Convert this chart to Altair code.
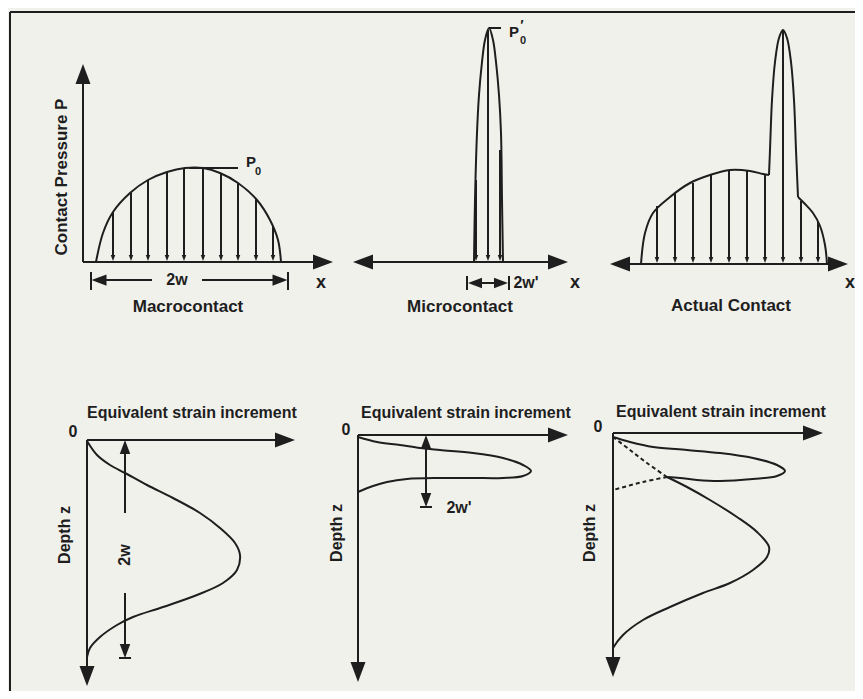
import altair as alt
import pandas as pd

INK = "#1e1e1e"
PAPER = "#f1f1ec"
FONT = "Liberation Sans, Arial"

# ---- curves (x to the right, y downwards) ----
MACRO_P = [(96, 262), (103, 233), (113, 212), (130, 193), (148, 180), (167, 172), (185, 168),
           (203, 168), (220, 173), (238, 183), (257, 200), (270, 220), (278, 240), (281, 262)]
MICRO_P = [(474, 262), (475, 200), (477, 133), (479, 95), (482, 62), (485, 40), (489, 28),
           (493, 40), (496, 62), (499, 95), (501, 133), (502, 200), (503, 262)]
ACTUAL_LEFT = [(641, 264), (645, 233), (653, 213), (670, 197), (690, 183), (710, 175),
               (730, 170), (750, 171), (763, 174), (769, 175)]
ACTUAL_SPIKE = [(769, 175), (770, 150), (772, 100), (775, 62), (779, 38), (783, 30),
                (787, 38), (791, 62), (794, 100), (796, 150), (798, 197)]
ACTUAL_RIGHT = [(798, 197), (805, 204), (813, 213), (820, 226), (825, 245), (827, 264)]
MACRO_STRAIN = [(87, 441), (97, 455), (110, 465), (125, 473), (147, 485), (173, 498), (200, 513),
                (220, 528), (235, 543), (240, 555), (237, 570), (223, 583), (197, 595),
                (163, 607), (133, 617), (117, 625), (100, 637), (90, 648), (87, 657)]
MICRO_STRAIN = [(358, 437), (377, 442), (400, 445), (420, 448), (440, 450), (473, 453), (503, 458),
                (523, 465), (531, 471), (523, 476), (503, 478), (473, 478), (440, 478),
                (407, 479), (387, 482), (373, 486), (358, 492)]
ACTUAL_STRAIN_SHALLOW = [(613, 437), (630, 442), (653, 447), (687, 450), (720, 453), (753, 458),
                         (777, 465), (785, 471), (777, 476), (753, 479), (720, 481), (697, 480),
                         (680, 478), (667, 477)]
ACTUAL_STRAIN_DEEP = [(667, 477), (687, 487), (710, 500), (737, 517), (757, 532), (769, 547),
                      (767, 557), (753, 570), (730, 583), (703, 593), (670, 607), (643, 620),
                      (623, 635), (613, 648)]
DASHED_A = [(613, 437), (630, 450), (647, 463), (667, 477)]
DASHED_B = [(667, 477), (643, 482), (613, 490)]

# ---- pressure arrows (x position, top of the arrow) ----
MACRO_ARROW_X = [113, 131, 148, 167, 184, 203, 221, 238, 256, 273]
MACRO_ARROW_TOP = [212, 193, 180, 172, 168, 168, 173, 183, 199, 226]
MICRO_ARROW_X = [476, 488, 500]
MICRO_ARROW_TOP = [180, 30, 150]
ACTUAL_ARROW_X = [657, 675, 693, 711, 729, 747, 765, 783, 801, 818]
ACTUAL_ARROW_TOP = [206, 194, 183, 175, 170, 171, 174, 31, 201, 222]

# ---- straight strokes (x, y, x2, y2) ----
SEGMENTS = [
    (10, 12, 870, 12), (10, 12, 10, 710),                       # frame
    (83, 82, 83, 262), (83, 262, 316, 262),                     # macro axes
    (370, 262, 552, 262),                                       # micro axis
    (625, 264, 832, 264),                                       # actual axis
    (189, 168, 238, 168), (489, 28, 501, 28),                   # P0 leaders
    (91, 272, 91, 290), (288, 272, 288, 290),                   # 2w bars
    (100, 280, 152, 280), (202, 280, 280, 280),                 # 2w line
    (467, 276, 467, 290), (509, 276, 509, 290), (475, 283, 501, 283),  # 2w'
    (87, 440, 87, 668), (87, 440, 280, 440),                    # strain axes 1
    (125, 450, 125, 513), (125, 593, 125, 650), (119, 658, 131, 658),
    (358, 435, 358, 664), (358, 435, 552, 435),                 # strain axes 2
    (426, 444, 426, 500), (420, 507, 432, 507),
    (613, 433, 613, 659), (613, 433, 808, 433),                 # strain axes 3
]

# ---- arrow heads (centre x, centre y, direction angle, size) ----
HEADS = [
    (83, 74, 0, 400), (323, 262, 90, 400),
    (363, 262, 270, 400), (558, 262, 90, 400),
    (620, 264, 270, 400), (838, 264, 90, 400),
    (99, 280, 270, 225), (280, 280, 90, 225),
    (475, 283, 270, 196), (501, 283, 90, 196),
    (87, 676, 180, 400), (285, 440, 90, 400),
    (125, 447, 0, 196), (125, 651, 180, 196),
    (358, 672, 180, 400), (558, 435, 90, 400),
    (426, 442, 0, 196), (426, 500, 180, 196),
    (613, 667, 180, 400), (813, 433, 90, 400),
]

# ---- labels ----
LABELS = [
    ("Contact Pressure P", 62, 177, 17, 270),
    ("P", 251, 162, 15, 0), ("0", 258, 172, 11, 0),
    ("P", 514, 32, 15, 0), ("′", 522, 26, 14, 0), ("0", 523, 41, 11, 0),
    ("x", 321, 283, 18, 0), ("x", 575, 283, 18, 0), ("x", 850, 283, 18, 0),
    ("2w", 177, 280, 16, 0), ("2w'", 526, 283, 16, 0),
    ("Macrocontact", 188, 307, 17, 0), ("Microcontact", 460, 307, 17, 0),
    ("Actual Contact", 731, 306, 17, 0),
    ("0", 73, 432, 16, 0), ("0", 346, 430, 16, 0), ("0", 598, 427, 16, 0),
    ("Depth z", 65, 535, 16, 270), ("Depth z", 337, 533, 16, 270), ("Depth z", 590, 533, 16, 270),
    ("2w", 125, 555, 16, 270), ("2w'", 459, 508, 16, 0),
]
TITLES = [("Equivalent strain increment", 87, 413), ("Equivalent strain increment", 361, 413),
          ("Equivalent strain increment", 616, 412)]

# ---- build tables ----
solid = {"macro": MACRO_P, "micro": MICRO_P, "aL": ACTUAL_LEFT, "aS": ACTUAL_SPIKE,
         "aR": ACTUAL_RIGHT, "s1": MACRO_STRAIN, "s2": MICRO_STRAIN,
         "s3a": ACTUAL_STRAIN_SHALLOW, "s3b": ACTUAL_STRAIN_DEEP}
dashed = {"dA": DASHED_A, "dB": DASHED_B}


def curve_table(d):
    return pd.DataFrame([{"id": k, "i": i, "x": p[0], "y": p[1]}
                         for k, pts in d.items() for i, p in enumerate(pts)])


solid_df = curve_table(solid)
dashed_df = curve_table(dashed)

segs = list(SEGMENTS)
heads = list(HEADS)
for xs, tops, base in [(MACRO_ARROW_X, MACRO_ARROW_TOP, 262),
                       (MICRO_ARROW_X, MICRO_ARROW_TOP, 262),
                       (ACTUAL_ARROW_X, ACTUAL_ARROW_TOP, 264)]:
    for x, t in zip(xs, tops):
        segs.append((x, t, x, base - 4))
        heads.append((x, base - 4, 180, 36))
seg_df = pd.DataFrame(segs, columns=["x", "y", "x2", "y2"])
head_df = pd.DataFrame(heads, columns=["x", "y", "angle", "size"])
lab_df = pd.DataFrame(LABELS, columns=["text", "x", "y", "size", "angle"])
title_df = pd.DataFrame(TITLES, columns=["text", "x", "y"])

XS = alt.Scale(domain=[8, 855], nice=False, zero=False)
YS = alt.Scale(domain=[8, 691], nice=False, zero=False, reverse=True)


def X(f="x"):
    return alt.X(f"{f}:Q", scale=XS, axis=None)


def Y(f="y"):
    return alt.Y(f"{f}:Q", scale=YS, axis=None)


lines = alt.Chart(solid_df).mark_line(interpolate="catmull-rom", strokeWidth=2, color=INK).encode(
    x=X(), y=Y(), detail="id:N", order="i:Q")
dlines = alt.Chart(dashed_df).mark_line(interpolate="catmull-rom", strokeWidth=2, color=INK,
                                        strokeDash=[4, 3]).encode(
    x=X(), y=Y(), detail="id:N", order="i:Q")
rules = alt.Chart(seg_df).mark_rule(strokeWidth=2, color=INK).encode(
    x=X(), y=Y(), x2="x2:Q", y2="y2:Q")
arrows = alt.Chart(head_df).mark_point(filled=True, shape="M0,-1L0.75,1L-0.75,1Z", color=INK,
                                       opacity=1, strokeWidth=0).encode(
    x=X(), y=Y(), angle=alt.Angle("angle:Q", scale=None), size=alt.Size("size:Q", scale=None))
labels = alt.Chart(lab_df).mark_text(font=FONT, fontWeight="bold", color=INK, align="center",
                                     baseline="middle").encode(
    x=X(), y=Y(), text="text:N", size=alt.Size("size:Q", scale=None),
    angle=alt.Angle("angle:Q", scale=None))
titles = alt.Chart(title_df).mark_text(font=FONT, fontWeight="bold", color=INK, align="left",
                                       baseline="middle", fontSize=16).encode(
    x=X(), y=Y(), text="text:N")

chart = alt.layer(rules, lines, dlines, arrows, labels, titles).properties(
    width=847, height=683, background=PAPER, padding=0,
    autosize=alt.AutoSizeParams(type="none")
).configure_view(stroke=None)

chart.save("out.html", embed_options={"renderer": "svg", "actions": False})
